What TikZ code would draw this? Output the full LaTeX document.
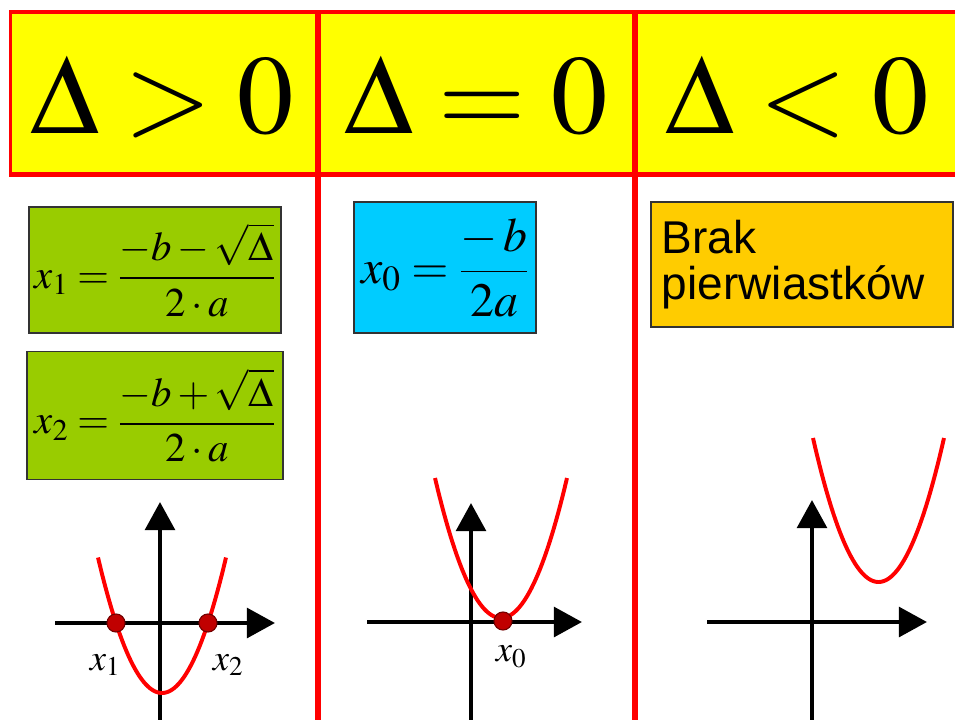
\documentclass[tikz,border=0pt]{standalone}
\usepackage{amsmath}
\usepackage{mathptmx}
\usepackage[no-math]{fontspec}
\newfontfamily\arialfont{Liberation Sans}
\usetikzlibrary{arrows.meta,positioning}

\definecolor{headyellow}{RGB}{255,255,0}
\definecolor{rootgreen}{RGB}{153,204,0}
\definecolor{rootcyan}{RGB}{0,204,255}
\definecolor{rootgold}{RGB}{255,204,0}
\definecolor{dotred}{RGB}{192,0,0}
\newcommand\hdrel[1]{\mskip4mu#1\mskip4mu}

\begin{document}
\begin{tikzpicture}[
  x=0.025cm, y=-0.025cm,
  hdtext/.style={anchor=base,inner sep=0pt,font=\fontsize{80}{90}\selectfont},
  fbox/.style={draw=black!80,line width=1pt,inner sep=0pt,font=\fontsize{29}{34}\selectfont},
  axisline/.style={line width=3.2pt,-{Triangle[length=20pt,width=21pt]}},
  parab/.style={red,line width=2.8pt,line join=round},
  rootdot/.style={circle,fill=dotred,draw=dotred!60!black,line width=0.8pt,minimum size=0.45cm,inner sep=0pt},
  rootlbl/.style={inner sep=0pt,font=\fontsize{26}{30}\selectfont},
  divider/.style={red,line width=4.3pt},
]
  \useasboundingbox (0,0) rectangle (955,719);

  % header band
  \fill[headyellow] (9,10) rectangle (960,177);
  \draw[red,line width=2.6pt] (960,12) -- (10.5,12) -- (10.5,174.5);
  \draw[red,line width=3.6pt] (9,174.5) -- (960,174.5);
  \draw[divider] (318,10) -- (318,722);
  \draw[divider] (635,10) -- (635,722);

  \node[hdtext] (hdpos) at (162,133) {$\Delta\hdrel{\mathord{>}}0$};
  \node[hdtext] (hdzero) at (476,133) {$\Delta\hdrel{\mathord{=}}0$};
  \node[hdtext] (hdneg) at (797,133) {$\Delta\hdrel{\mathord{<}}0$};

  % formula boxes
  \node[fbox,fill=rootgreen,minimum width=6.3cm,minimum height=3.15cm]
    (rootone) at (155,270) {$x_1=\dfrac{-b-\sqrt{\Delta}}{2\cdot a}$};
  \node[fbox,fill=rootgreen,minimum width=6.4cm,minimum height=3.2cm,below=0.425cm of rootone]
    (roottwo) {$x_2=\dfrac{-b+\sqrt{\Delta}}{2\cdot a}$};
  \node[fbox,fill=rootcyan,minimum width=4.55cm,minimum height=3.275cm,font=\fontsize{34}{40}\selectfont]
    (rootzero) at (445,267.5) {$x_0=\dfrac{-\,b}{2a}$};
  \node[fbox,fill=rootgold,minimum width=7.55cm,minimum height=3.125cm,text width=7.0cm,
    inner xsep=0.275cm,align=left,font=\arialfont\fontsize{32.7}{32.5}\selectfont]
    (noroots) at (802,264.5) {Brak\\pierwiastków};

  % Delta > 0: two roots
  \coordinate (oneyb) at (160,722);
  \coordinate (oneyt) at (160,502);
  \coordinate (onexl) at (55,623);
  \coordinate (onexr) at (275,623);
  \draw[axisline] (oneyb) -- (oneyt);
  \draw[axisline] (onexl) -- (onexr);
  \draw[parab] plot[domain=-64:64,samples=60] ({162+\x},{693-70*(\x/46)^2});
  \node[rootdot] (dotone) at (116,623) {};
  \node[rootdot] (dottwo) at (208,623) {};
  \node[rootlbl] (lblone) at (105,665) {$x_1$};
  \node[rootlbl] (lbltwo) at (228,665) {$x_2$};

  % Delta = 0: one root
  \coordinate (twoyb) at (471,722);
  \coordinate (twoyt) at (471,503);
  \coordinate (twoxl) at (367,622);
  \coordinate (twoxr) at (582,622);
  \draw[axisline] (twoyb) -- (twoyt);
  \draw[axisline] (twoxl) -- (twoxr);
  \draw[parab] plot[domain=-66:66,samples=60] ({501+\x},{618-140*(\x/66)^2});
  \node[rootdot] (dotzero) at (503,621) {};
  \node[rootlbl] (lblzero) at (511,657) {$x_0$};

  % Delta < 0: no roots
  \coordinate (thryb) at (812,722);
  \coordinate (thryt) at (812,500);
  \coordinate (thrxl) at (707,622);
  \coordinate (thrxr) at (927,622);
  \draw[axisline] (thryb) -- (thryt);
  \draw[axisline] (thrxl) -- (thrxr);
  \draw[parab] plot[domain=-65.5:65.5,samples=60] ({878.5+\x},{582-144*(\x/65.5)^2});
\end{tikzpicture}
\end{document}
